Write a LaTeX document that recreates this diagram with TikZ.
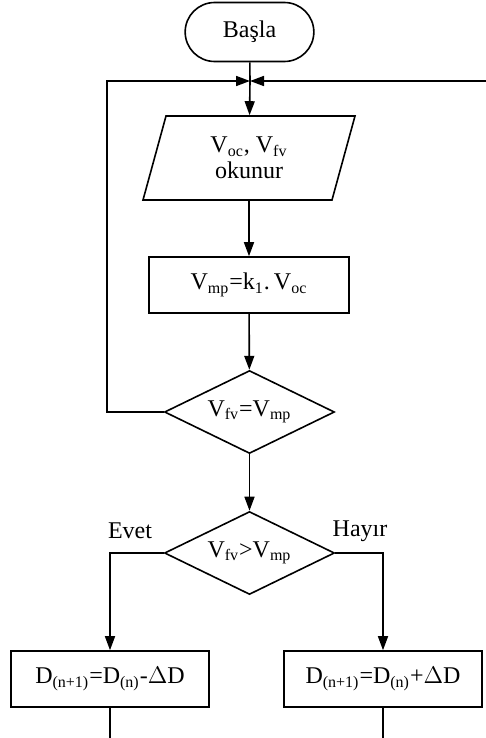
\documentclass[tikz,border=0pt]{standalone}
\usepackage{fontspec}
\setmainfont{Liberation Serif}
\usetikzlibrary{arrows.meta, positioning, shapes.geometric, shapes.misc}

\begin{document}
\begin{tikzpicture}[x=0.5pt, y=-0.5pt, line width=0.8pt,
    every node/.style={font=\fontsize{12}{13}\selectfont},
    term/.style={draw, rounded rectangle, minimum width=71pt, minimum height=29.5pt},
    io/.style={draw, trapezium, trapezium left angle=63.4, trapezium right angle=116.6,
      trapezium stretches body, minimum width=106pt, minimum height=42pt, align=center, inner sep=1pt},
    proc/.style={draw, rectangle, minimum width=100pt, minimum height=28pt},
    cond/.style={draw, diamond, aspect=2, minimum width=85pt, minimum height=41.5pt, inner sep=0pt},
    arr/.style={-{Triangle[length=7pt, width=5pt]}}]
    \useasboundingbox (0,0) rectangle (486,738);

    \node[term] (start) at (249.5,32) {Başla};
    \coordinate (j) at (250,81);
    \coordinate (lp) at (107,81);
    \coordinate (rp) at (486,81);
    \node[io] (read) at (249,158) {V\textsubscript{oc}, V\textsubscript{fv}\\okunur};
    \node[proc] (calc) at (249,285) {V\textsubscript{mp}=k\textsubscript{1}.\,V\textsubscript{oc}};
    \node[cond] (chk1) at (249.5,412) {V\textsubscript{fv}=V\textsubscript{mp}};
    \node[cond] (chk2) at (249.5,553) {V\textsubscript{fv}>V\textsubscript{mp}};
    \node (yes) at (130,531) {Evet};
    \node (no) at (360,531) {Hayır};
    \node[proc, minimum width=99pt] (dec) at (110,679) {D\textsubscript{(n+1)}=D\textsubscript{(n)}-$\Delta$D};
    \node[proc, minimum width=99pt] (inc) at (383,679) {D\textsubscript{(n+1)}=D\textsubscript{(n)}+$\Delta$D};
    \coordinate (db) at (110,738);
    \coordinate (ib) at (383,738);

    \draw (start) -- (j);
    \draw[arr] (j) -- (read);
    \draw[arr] (read) -- (calc);
    \draw[arr] (calc) -- (chk1);
    \draw[arr] (chk1) -- (chk2);
    \draw[arr] (chk1.west) -| (lp) -- (j);
    \draw[arr] (rp) -- (j);
    \draw[arr] (chk2.west) -| (dec);
    \draw[arr] (chk2.east) -| (inc);
    \draw (dec) -- (db);
    \draw (inc) -- (ib);
\end{tikzpicture}
\end{document}
